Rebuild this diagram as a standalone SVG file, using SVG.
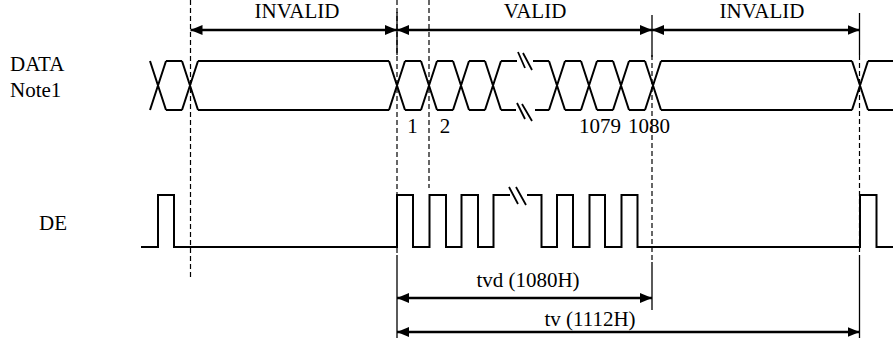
<svg xmlns="http://www.w3.org/2000/svg" width="893" height="338" viewBox="0 0 893 338">
<style>
  text { font-family: "Liberation Serif", "Times New Roman", serif; font-size: 21px; fill: #000; }
  .mid { text-anchor: middle; }
  .sig { fill: none; stroke: #000; stroke-width: 2; stroke-linejoin: miter; }
  .brk { fill: none; stroke: #000; stroke-width: 1.8; }
  .dash { fill: none; stroke: #000; stroke-width: 1.2; stroke-dasharray: 5 3; }
  .solid { fill: none; stroke: #000; stroke-width: 1.3; }
  .arr { fill: none; stroke: #000; stroke-width: 2.5; marker-start: url(#ah); marker-end: url(#ah); }
</style>
<defs>
  <marker id="ah" viewBox="0 0 12 10" refX="12" refY="5" markerWidth="12" markerHeight="10" markerUnits="userSpaceOnUse" orient="auto-start-reverse">
    <path d="M0,0 L12,5 L0,10 Z" fill="#000"/>
  </marker>
</defs>
<rect width="893" height="338" fill="#fff"/>

<g id="guides">
  <line class="dash" x1="190.5" y1="0" x2="190.5" y2="278"/>
  <line class="dash" x1="397" y1="0" x2="397" y2="255"/>
  <line class="dash" x1="429" y1="0" x2="429" y2="188"/>
  <line class="dash" x1="652" y1="55" x2="652" y2="262"/>
  <line class="dash" x1="859.5" y1="55" x2="859.5" y2="255"/>
  <line class="solid" x1="397" y1="12" x2="397" y2="55"/>
  <line class="solid" x1="652" y1="15" x2="652" y2="57"/>
  <line class="solid" x1="859.5" y1="13" x2="859.5" y2="55"/>
  <line class="solid" x1="397" y1="255" x2="397" y2="338"/>
  <line class="solid" x1="652" y1="262" x2="652" y2="310"/>
  <line class="solid" x1="859.5" y1="255" x2="859.5" y2="338"/>
</g>

<g id="labels">
  <text x="10" y="71">DATA</text>
  <text x="10" y="97">Note1</text>
  <text x="39" y="230">DE</text>
</g>

<g id="data-signal">
  <path class="sig" d="
    M150,61 L166,110 M150,110 L166,61
    M166,61 H182 M166,110 H182
    M182,61 L198,110 M182,110 L198,61
    M198,61 H389 M198,110 H389
    M389,61 L405,110 M389,110 L405,61
    M405,61 H421 M405,110 H421
    M421,61 L437,110 M421,110 L437,61
    M437,61 H453 M437,110 H453
    M453,61 L469,110 M453,110 L469,61
    M469,61 H485 M469,110 H485
    M485,61 L501,110 M485,110 L501,61
    M501,61 H517 M501,110 H516
    M533,61 H549 M535,110 H549
    M549,61 L565,110 M549,110 L565,61
    M565,61 H581 M565,110 H581
    M581,61 L597,110 M581,110 L597,61
    M597,61 H613 M597,110 H613
    M613,61 L629,110 M613,110 L629,61
    M629,61 H645 M629,110 H645
    M645,61 L661,110 M645,110 L661,61
    M661,61 H852 M661,110 H852
    M852,61 L868,110 M852,110 L868,61
    M868,61 H893 M868,110 H893"/>
  <path class="brk" d="M518,52 L525,68 M523,53 L532,70 M517,103 L525,119 M522,104 L532,121"/>
  <text class="mid" x="412.5" y="133">1</text>
  <text class="mid" x="445" y="133">2</text>
  <text class="mid" x="600" y="133">1079</text>
  <text class="mid" x="649" y="133">1080</text>
</g>

<g id="de-signal">
  <path class="sig" d="M141,247 H158 V195 H174 V247 H397 V195 H413 V247 H429.5 V195 H446 V247 H461.5 V195 H478 V247 H493.5 V195 H510 M527,195 H541.5 V247 H557 V195 H573 V247 H589.5 V195 H605 V247 H621.5 V195 H637.5 V247 H860 V195 H876.5 V247 H893"/>
  <path class="brk" d="M509,187 L518,204 M516,187 L526,205"/>
</g>

<g id="connectors">
  <line class="arr" x1="190.5" y1="30" x2="397" y2="30"/>
  <line class="arr" x1="397" y1="30" x2="652" y2="30"/>
  <line class="arr" x1="652" y1="30" x2="859.5" y2="30"/>
  <line class="arr" x1="397" y1="298" x2="652" y2="298"/>
  <line class="arr" x1="397" y1="332" x2="859.5" y2="332"/>
</g>

<g id="connector-labels">
  <text class="mid" x="297" y="18">INVALID</text>
  <text class="mid" x="535" y="18">VALID</text>
  <text class="mid" x="762" y="18">INVALID</text>
  <text class="mid" x="528" y="287">tvd (1080H)</text>
  <text class="mid" x="590" y="326">tv (1112H)</text>
</g>
</svg>
